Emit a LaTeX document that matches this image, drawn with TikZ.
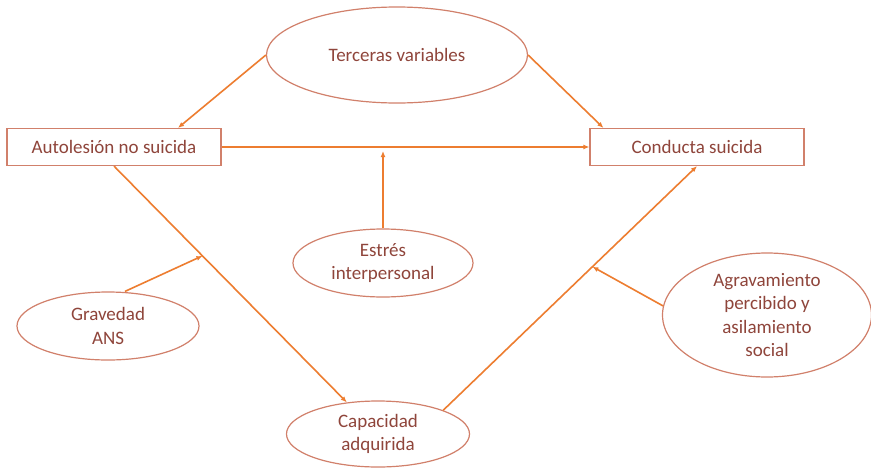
\documentclass[tikz,border=0pt]{standalone}
\usepackage{fontspec}
\setmainfont{Carlito}
\usetikzlibrary{shapes.geometric,arrows.meta,calc}
\definecolor{morange}{rgb}{0.93, 0.49, 0.19}
\definecolor{mborder}{rgb}{0.82, 0.50, 0.42}
\definecolor{mtext}{rgb}{0.56, 0.27, 0.23}
\tikzset{rectbox/.style = {draw = mborder, line width = 1.2pt, minimum width = 214, minimum height = 37, inner sep = 0, text = mtext},
         ell/.style = {draw = mborder, line width = 1.2pt, ellipse, inner sep = 0, align = center, text = mtext},
         flecha/.style = {morange, line width = 1.6pt, -{Latex[length = 6pt, width = 5pt]}}}

\begin{document}
\begin{tikzpicture}[x = 1pt, y = -1pt, font = \fontsize{19}{23.5}\selectfont]
      \useasboundingbox (0, 0) rectangle (871, 469);
      \fill [white] (0, 0) rectangle (871, 469);
      \node [rectbox] (auto) at (114, 147) {Autolesión no suicida};
      \node [rectbox] (cond) at (697, 147) {Conducta suicida};
      \node [ell, minimum width = 261, minimum height = 96] (terc) at (397, 55) {Terceras variables};
      \node [ell, minimum width = 180, minimum height = 68] (estres) at (383, 263) {Estrés\\interpersonal};
      \node [ell, minimum width = 182, minimum height = 68] (grav) at (108, 326) {Gravedad\\ANS};
      \node [ell, minimum width = 183, minimum height = 66] (capac) at (378, 434) {Capacidad\\adquirida};
      \node [ell, minimum width = 209, minimum height = 124] (agrav) at (767, 315) {Agravamiento\\percibido y\\asilamiento\\social};
      \coordinate (m1) at ($(auto.south)!0.335!(capac.center)$);
      \coordinate (m3) at ($(capac.20)!0.588!(cond.south)$);
      \draw [flecha] (terc.west) -- ([xshift = 64pt]auto.north);
      \draw [flecha] (terc.east) -- ([xshift = 14pt]cond.north west);
      \draw [flecha] (auto.east) -- (cond.west);
      \draw [flecha, shorten > = 4pt] (estres.north) -- (estres.north |- auto.east);
      \draw [flecha] (auto.south) -- (capac);
      \draw [flecha] ([xshift = 17pt]grav.north) -- (m1);
      \draw [flecha] (capac.20) -- (cond.south);
      \draw [flecha] (agrav.175) -- (m3);
    \end{tikzpicture}
\end{document}
